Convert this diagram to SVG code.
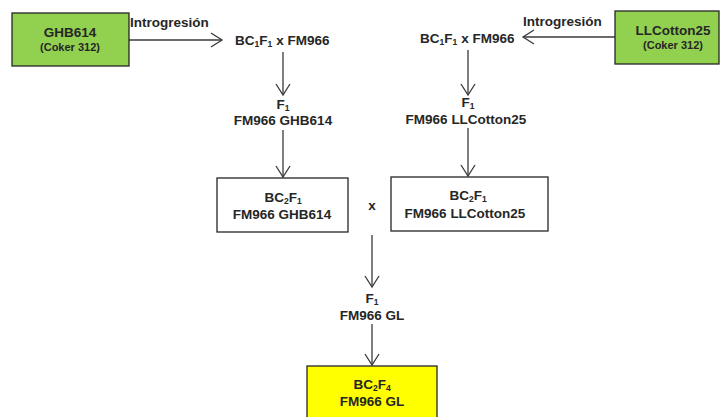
<svg xmlns="http://www.w3.org/2000/svg" width="720" height="417" viewBox="0 0 720 417">
<style>
text{font-family:"Liberation Sans",Arial,sans-serif;font-weight:bold;fill:#262626;font-size:13.5px}
.c{text-anchor:middle}
.s{font-size:8.5px}
.sm{font-size:11px}
.box{stroke:#262626;stroke-width:1.3}
.ln{stroke:#3a3a3a;stroke-width:1.3;fill:none;marker-end:url(#ah)}
</style>
<defs>
<marker id="ah" markerUnits="userSpaceOnUse" markerWidth="14" markerHeight="16" refX="12" refY="8" orient="auto">
<path d="M1,1 L12,8 L1,15" fill="none" stroke="#3a3a3a" stroke-width="1.3"/>
</marker>
</defs>
<rect width="720" height="417" fill="#fff"/>
<g id="connectors">
<line class="ln" x1="129" y1="40" x2="222" y2="40"/>
<line class="ln" x1="615" y1="37" x2="523" y2="37"/>
<line class="ln" x1="283" y1="52" x2="283" y2="95"/>
<line class="ln" x1="468" y1="50" x2="468" y2="95"/>
<line class="ln" x1="283" y1="130" x2="283" y2="177"/>
<line class="ln" x1="468" y1="128" x2="468" y2="176"/>
<line class="ln" x1="372" y1="235" x2="372" y2="287"/>
<line class="ln" x1="372" y1="324" x2="372" y2="365"/>
<text x="130" y="27" font-size="14">Introgresión</text>
<text x="523" y="26" font-size="14">Introgresión</text>
<text x="372" y="210" class="c" font-size="14">x</text>
</g>
<g id="ghb614">
<rect class="box" x="12" y="13" width="117" height="53" fill="#92d050"/>
<text x="70" y="37" class="c" font-size="13">GHB614</text>
<text x="70" y="51" class="c sm">(Coker 312)</text>
</g>
<g id="llcotton25">
<rect class="box" x="615" y="11" width="104" height="53" fill="#92d050"/>
<text x="673" y="35" class="c" font-size="14">LLCotton25</text>
<text x="673" y="49" class="c sm">(Coker 312)</text>
</g>
<g id="bc1f1-left">
<text x="235" y="45">BC<tspan class="s" dy="2">1</tspan><tspan dy="-2">F</tspan><tspan class="s" dy="2">1</tspan><tspan dy="-2" dx="4">x FM966</tspan></text>
</g>
<g id="bc1f1-right">
<text x="420" y="43">BC<tspan class="s" dy="2">1</tspan><tspan dy="-2">F</tspan><tspan class="s" dy="2">1</tspan><tspan dy="-2" dx="4">x FM966</tspan></text>
</g>
<g id="f1-left">
<text x="283" y="109" class="c">F<tspan class="s" dy="2">1</tspan></text>
<text x="283" y="125" class="c">FM966 GHB614</text>
</g>
<g id="f1-right">
<text x="468" y="107" class="c">F<tspan class="s" dy="2">1</tspan></text>
<text x="466" y="124" class="c">FM966 LLCotton25</text>
</g>
<g id="bc2f1-left">
<rect class="box" x="217" y="178" width="131" height="54" fill="#fff"/>
<text x="283" y="202" class="c">BC<tspan class="s" dy="2">2</tspan><tspan dy="-2">F</tspan><tspan class="s" dy="2">1</tspan></text>
<text x="282" y="219" class="c">FM966 GHB614</text>
</g>
<g id="bc2f1-right">
<rect class="box" x="391" y="177" width="157" height="54" fill="#fff"/>
<text x="468" y="200" class="c">BC<tspan class="s" dy="2">2</tspan><tspan dy="-2">F</tspan><tspan class="s" dy="2">1</tspan></text>
<text x="465" y="218" class="c">FM966 LLCotton25</text>
</g>
<g id="f1-gl">
<text x="372" y="303" class="c">F<tspan class="s" dy="2">1</tspan></text>
<text x="372" y="320" class="c">FM966 GL</text>
</g>
<g id="bc2f4-gl">
<rect class="box" x="307" y="366" width="130" height="60" fill="#ffff00"/>
<text x="372" y="389" class="c">BC<tspan class="s" dy="2">2</tspan><tspan dy="-2">F</tspan><tspan class="s" dy="2">4</tspan></text>
<text x="372" y="406" class="c">FM966 GL</text>
</g>
</svg>
